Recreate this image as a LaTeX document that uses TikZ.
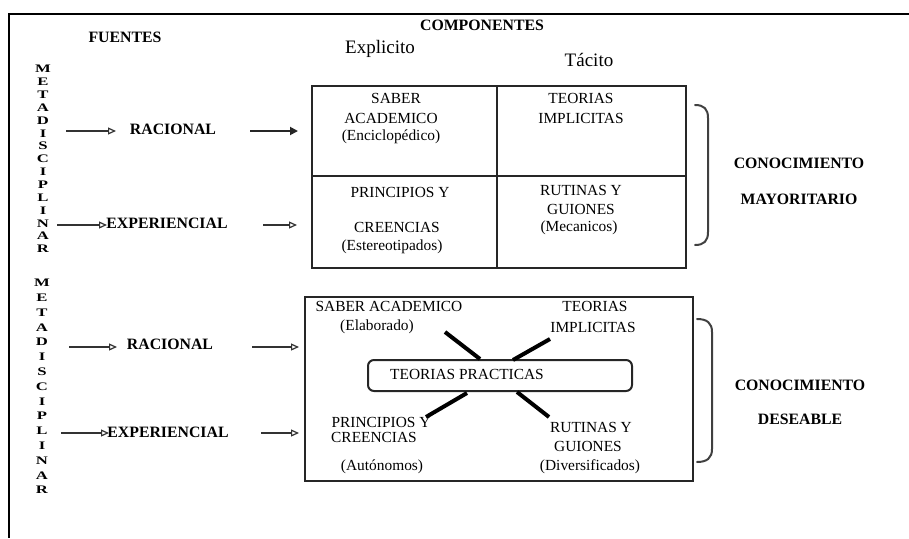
\documentclass[tikz,border=0pt]{standalone}
\usepackage{fontspec}
\setmainfont{Liberation Serif}
\newfontfamily\widefont[FakeStretch=1.45]{Liberation Serif}
\usetikzlibrary{arrows.meta}
\tikzset{
  txt/.style={inner sep=0pt, font=\fontsize{15.4}{17}\selectfont},
  btxt/.style={inner sep=0pt, font=\fontsize{15.8}{17}\selectfont\bfseries},
  big/.style={inner sep=0pt, font=\fontsize{19}{21}\selectfont},
  vlet/.style={inner sep=0pt, align=center, font=\widefont\fontsize{11.5}{#1}\selectfont\bfseries},
  grid/.style={line width=2pt, draw=black!85},
  openarr/.style={line width=1.8pt, draw=black!80, -{Triangle[open,length=8pt,width=7pt,line width=1.2pt]}},
  fullarr/.style={line width=1.8pt, draw=black!85, -{Triangle[length=8pt,width=8pt]}},
  brk/.style={line width=2pt, draw=black!75, line cap=round},
  xline/.style={line width=4pt, draw=black}
}
\begin{document}
\begin{tikzpicture}[x=1pt,y=-1pt]
\useasboundingbox (0,0) rectangle (909,538);
% frame
\coordinate (ftl) at (9,14);
\coordinate (ftr) at (909,14);
\coordinate (fbl) at (9,538);
\draw[line width=2.5pt] (ftr) -- (ftl) -- (fbl);

% headers
\node[btxt] (fuentes) at (125,37) {FUENTES};
\node[btxt] (comp) at (482,25) {COMPONENTES};
\node[big] (expl) at (380,49) {Explicito};
\node[big] (tac) at (589,60) {Tácito};

% vertical words
\node[vlet=12.86pt, anchor=north] (meta1) at (43,65) {M\\E\\T\\A\\D\\I\\S\\C\\I\\P\\L\\I\\N\\A\\R};
\node[vlet=14.8pt, anchor=north] (meta2) at (42,279) {M\\E\\T\\A\\D\\I\\S\\C\\I\\P\\L\\I\\N\\A\\R};

% upper table
\draw[grid] (312,86) rectangle (686,268);
\draw[grid] (497,86) -- (497,268);
\draw[grid] (312,176) -- (686,176);
\node[txt] (t1a) at (396,98) {SABER};
\node[txt] (t1b) at (391,118) {ACADEMICO};
\node[txt] (t1c) at (391,137) {(Enciclopédico)};
\node[txt] (t2a) at (581,98) {TEORIAS};
\node[txt] (t2b) at (581,118) {IMPLICITAS};
\node[txt] (t3a) at (400,192) {PRINCIPIOS Y};
\node[txt] (t3b) at (397,227) {CREENCIAS};
\node[txt] (t3c) at (392,247) {(Estereotipados)};
\node[txt] (t4a) at (581,190) {RUTINAS Y};
\node[txt] (t4b) at (581,209) {GUIONES};
\node[txt] (t4c) at (579,228) {(Mecanicos)};

% upper bracket
\draw[brk] (695,105) .. controls (704,105) and (708,109) .. (708,118) -- (708,232) .. controls (708,241) and (704,245) .. (695,245);
\node[btxt] (con1) at (799,163) {CONOCIMIENTO};
\node[btxt] (may) at (799,199) {MAYORITARIO};

% upper arrows
\node[btxt] (rac1) at (173,129) {RACIONAL};
\node[btxt] (exp1) at (167,223) {EXPERIENCIAL};
\coordinate (a1s) at (66,131); \coordinate (a1e) at (116,131);
\coordinate (a2s) at (250,131); \coordinate (a2e) at (298,131);
\coordinate (a3s) at (57,225); \coordinate (a3e) at (107,225);
\coordinate (a4s) at (263,225); \coordinate (a4e) at (297,225);
\draw[openarr] (a1s) -- (a1e);
\draw[fullarr] (a2s) -- (a2e);
\draw[openarr] (a3s) -- (a3e);
\draw[openarr] (a4s) -- (a4e);

% lower box
\draw[grid] (305,297) rectangle (693,481);
\node[txt] (s1a) at (389,306) {SABER ACADEMICO};
\node[txt] (s1b) at (377,327) {(Elaborado)};
\node[txt] (s2a) at (595,306) {TEORIAS};
\node[txt] (s2b) at (593,327) {IMPLICITAS};
\node[txt] (s3a) at (381,422) {PRINCIPIOS Y};
\node[txt] (s3b) at (374,437) {CREENCIAS};
\node[txt] (s3c) at (382,467) {(Autónomos)};
\node[txt] (s4a) at (591,427) {RUTINAS Y};
\node[txt] (s4b) at (588,446) {GUIONES};
\node[txt] (s4c) at (590,467) {(Diversificados)};
\draw[line width=2pt, draw=black!85, rounded corners=6pt] (368,360) rectangle (632,391);
\node[txt] (tp) at (467,374) {TEORIAS PRACTICAS};

% X lines
\coordinate (x1a) at (445,332); \coordinate (x1b) at (480,359);
\coordinate (x2a) at (550,339); \coordinate (x2b) at (513,360);
\coordinate (x3a) at (467,393); \coordinate (x3b) at (426,417);
\coordinate (x4a) at (517,392); \coordinate (x4b) at (549,417);
\draw[xline] (x1a) -- (x1b);
\draw[xline] (x2a) -- (x2b);
\draw[xline] (x3a) -- (x3b);
\draw[xline] (x4a) -- (x4b);

% lower bracket
\draw[brk] (697,319) .. controls (707,319) and (712,323) .. (712,332) -- (712,449) .. controls (712,458) and (707,462) .. (697,462);
\node[btxt] (con2) at (800,385) {CONOCIMIENTO};
\node[btxt] (des) at (800,419) {DESEABLE};

% lower arrows
\node[btxt] (rac2) at (170,344) {RACIONAL};
\node[btxt] (exp2) at (168,432) {EXPERIENCIAL};
\coordinate (b1s) at (69,347); \coordinate (b1e) at (117,347);
\coordinate (b2s) at (252,347); \coordinate (b2e) at (299,347);
\coordinate (b3s) at (61,433); \coordinate (b3e) at (109,433);
\coordinate (b4s) at (261,433); \coordinate (b4e) at (299,433);
\draw[openarr] (b1s) -- (b1e);
\draw[openarr] (b2s) -- (b2e);
\draw[openarr] (b3s) -- (b3e);
\draw[openarr] (b4s) -- (b4e);
\end{tikzpicture}
\end{document}
